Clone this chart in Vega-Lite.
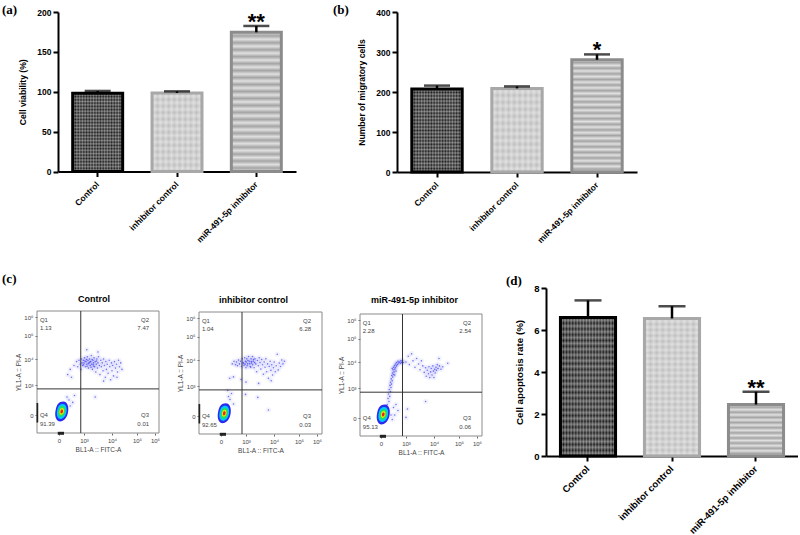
{
"$schema":"https://vega.github.io/schema/vega-lite/v6.json",
"padding":{"left":2,"top":4,"right":0,"bottom":0},
"background":"white",
"config":{"view":{"stroke":null},"axis":{"grid":false,"domainColor":"black","domainWidth":2,"tickColor":"black","tickWidth":2,"tickSize":5,"labelFont":"Liberation Sans","labelFontWeight":"bold","labelColor":"black","labelFontSize":8.5,"titleFont":"Liberation Sans","titleFontWeight":"bold","titleColor":"black","titleFontSize":8.6}},
"datasets":{
"p1":[{"x":2.45,"y":3.6},{"x":2.6,"y":3.75},{"x":2.7,"y":3.9},{"x":2.75,"y":3.7},{"x":2.8,"y":3.95},{"x":2.85,"y":3.8},{"x":2.88,"y":3.6},{"x":2.9,"y":4.0},{"x":2.92,"y":3.85},{"x":2.95,"y":3.75},{"x":2.97,"y":3.95},{"x":3.0,"y":3.85},{"x":3.02,"y":4.05},{"x":3.05,"y":3.7},{"x":3.07,"y":3.9},{"x":3.1,"y":3.8},{"x":3.12,"y":4.1},{"x":3.14,"y":3.95},{"x":3.16,"y":3.65},{"x":3.18,"y":3.85},{"x":3.2,"y":4.0},{"x":3.22,"y":3.75},{"x":3.24,"y":3.9},{"x":3.26,"y":4.15},{"x":3.28,"y":3.8},{"x":3.3,"y":3.6},{"x":3.32,"y":3.95},{"x":3.34,"y":3.85},{"x":3.36,"y":4.05},{"x":3.38,"y":3.7},{"x":3.4,"y":3.9},{"x":3.42,"y":3.5},{"x":3.44,"y":3.8},{"x":3.46,"y":4.0},{"x":3.48,"y":3.65},{"x":3.5,"y":3.85},{"x":3.52,"y":4.1},{"x":3.55,"y":3.75},{"x":3.57,"y":3.4},{"x":3.6,"y":3.95},{"x":3.62,"y":3.7},{"x":3.65,"y":3.85},{"x":3.68,"y":3.55},{"x":3.7,"y":4.0},{"x":3.73,"y":3.75},{"x":3.76,"y":3.3},{"x":3.78,"y":3.9},{"x":3.8,"y":3.6},{"x":3.83,"y":3.8},{"x":3.86,"y":3.45},{"x":3.9,"y":3.95},{"x":3.92,"y":3.7},{"x":3.95,"y":3.2},{"x":3.98,"y":3.85},{"x":4.0,"y":3.55},{"x":4.03,"y":3.75},{"x":4.06,"y":3.35},{"x":4.1,"y":3.9},{"x":4.14,"y":3.65},{"x":4.18,"y":3.8},{"x":4.22,"y":3.5},{"x":4.26,"y":3.95},{"x":4.3,"y":3.7},{"x":4.35,"y":3.85},{"x":4.4,"y":3.6},{"x":3.1,"y":4.4},{"x":3.5,"y":4.3},{"x":2.35,"y":3.4},{"x":2.5,"y":3.3},{"x":3.7,"y":3.15},{"x":4.2,"y":3.3},{"x":2.62,"y":2.65},{"x":3.4,"y":2.6},{"x":3.03,"y":3.92},{"x":3.11,"y":3.72},{"x":3.21,"y":3.88},{"x":3.29,"y":3.98},{"x":3.09,"y":3.98},{"x":3.35,"y":3.72},{"x":3.15,"y":3.82},{"x":2.98,"y":3.78},{"x":3.25,"y":3.68},{"x":3.45,"y":3.92},{"x":3.33,"y":3.78},{"x":2.4,"y":2.5},{"x":2.45,"y":2.3},{"x":2.55,"y":2.42},{"x":2.32,"y":2.6}],
"p2":[{"x":2.35,"y":3.3},{"x":2.45,"y":3.85},{"x":2.5,"y":3.35},{"x":2.52,"y":3.95},{"x":2.58,"y":3.82},{"x":2.62,"y":3.92},{"x":2.66,"y":3.78},{"x":2.7,"y":4.0},{"x":2.74,"y":3.85},{"x":2.78,"y":3.95},{"x":2.82,"y":3.75},{"x":2.85,"y":4.05},{"x":2.88,"y":3.9},{"x":2.92,"y":3.8},{"x":2.95,"y":4.1},{"x":2.98,"y":3.95},{"x":3.0,"y":3.7},{"x":3.03,"y":4.05},{"x":3.06,"y":3.85},{"x":3.09,"y":4.15},{"x":3.12,"y":3.95},{"x":3.15,"y":3.75},{"x":3.18,"y":4.05},{"x":3.2,"y":3.88},{"x":3.23,"y":4.15},{"x":3.26,"y":3.95},{"x":3.29,"y":3.7},{"x":3.32,"y":4.05},{"x":3.35,"y":3.85},{"x":3.38,"y":3.55},{"x":3.41,"y":3.98},{"x":3.44,"y":3.78},{"x":3.47,"y":4.1},{"x":3.5,"y":3.9},{"x":3.53,"y":3.65},{"x":3.56,"y":4.02},{"x":3.59,"y":3.82},{"x":3.62,"y":3.45},{"x":3.65,"y":3.92},{"x":3.68,"y":3.72},{"x":3.71,"y":4.05},{"x":3.74,"y":3.55},{"x":3.77,"y":3.85},{"x":3.8,"y":3.3},{"x":3.83,"y":3.75},{"x":3.86,"y":3.95},{"x":3.89,"y":3.6},{"x":3.92,"y":3.82},{"x":3.95,"y":3.42},{"x":3.98,"y":3.7},{"x":4.01,"y":3.92},{"x":4.05,"y":3.55},{"x":4.09,"y":3.78},{"x":4.13,"y":4.25},{"x":4.17,"y":3.62},{"x":4.21,"y":3.88},{"x":4.26,"y":3.75},{"x":4.31,"y":4.0},{"x":4.36,"y":3.85},{"x":4.42,"y":3.95},{"x":3.0,"y":3.15},{"x":2.8,"y":3.25},{"x":3.45,"y":3.1},{"x":3.9,"y":3.2},{"x":2.98,"y":2.72},{"x":3.42,"y":2.62},{"x":3.8,"y":2.2},{"x":2.9,"y":3.88},{"x":3.01,"y":3.92},{"x":3.07,"y":3.98},{"x":3.13,"y":3.86},{"x":3.19,"y":3.94},{"x":3.24,"y":3.82},{"x":3.31,"y":3.9},{"x":3.04,"y":3.78},{"x":2.96,"y":3.84},{"x":3.17,"y":3.72},{"x":3.27,"y":4.02},{"x":2.36,"y":2.55},{"x":2.42,"y":2.75},{"x":2.3,"y":2.65},{"x":2.5,"y":2.4},{"x":2.27,"y":2.85}],
"p3":[{"x":2.25,"y":2.45},{"x":2.32,"y":2.55},{"x":2.28,"y":2.65},{"x":2.35,"y":2.72},{"x":2.3,"y":2.8},{"x":2.38,"y":2.88},{"x":2.33,"y":2.95},{"x":2.4,"y":3.02},{"x":2.36,"y":3.1},{"x":2.42,"y":3.15},{"x":2.38,"y":3.22},{"x":2.45,"y":3.28},{"x":2.41,"y":3.35},{"x":2.47,"y":3.42},{"x":2.43,"y":3.48},{"x":2.5,"y":3.52},{"x":2.46,"y":3.58},{"x":2.52,"y":3.62},{"x":2.48,"y":3.7},{"x":2.55,"y":3.72},{"x":2.5,"y":3.8},{"x":2.58,"y":3.78},{"x":2.54,"y":3.86},{"x":2.62,"y":3.85},{"x":2.58,"y":3.92},{"x":2.66,"y":3.9},{"x":2.62,"y":3.98},{"x":2.7,"y":3.96},{"x":2.68,"y":4.03},{"x":2.74,"y":4.0},{"x":2.78,"y":3.95},{"x":2.8,"y":4.05},{"x":2.83,"y":3.98},{"x":2.86,"y":4.08},{"x":2.9,"y":3.98},{"x":2.55,"y":3.5},{"x":2.6,"y":3.65},{"x":2.45,"y":3.75},{"x":3.0,"y":4.0},{"x":3.08,"y":4.25},{"x":3.12,"y":3.9},{"x":3.2,"y":4.35},{"x":3.25,"y":4.05},{"x":3.32,"y":3.8},{"x":3.38,"y":4.15},{"x":3.45,"y":3.92},{"x":3.5,"y":3.7},{"x":3.55,"y":4.05},{"x":3.6,"y":3.85},{"x":3.65,"y":3.6},{"x":3.7,"y":3.78},{"x":3.72,"y":3.45},{"x":3.76,"y":3.68},{"x":3.8,"y":3.55},{"x":3.82,"y":3.82},{"x":3.85,"y":3.4},{"x":3.88,"y":3.62},{"x":3.9,"y":3.75},{"x":3.93,"y":3.5},{"x":3.96,"y":3.85},{"x":3.98,"y":3.65},{"x":4.0,"y":3.4},{"x":4.03,"y":3.72},{"x":4.05,"y":3.58},{"x":4.08,"y":3.8},{"x":4.1,"y":3.68},{"x":4.13,"y":3.9},{"x":4.16,"y":3.75},{"x":4.2,"y":4.15},{"x":4.22,"y":3.85},{"x":4.28,"y":3.72},{"x":4.35,"y":3.82},{"x":4.55,"y":3.95},{"x":3.7,"y":2.55},{"x":3.05,"y":2.3},{"x":3.0,"y":2.02},{"x":2.3,"y":2.25},{"x":2.4,"y":2.1},{"x":2.5,"y":2.35},{"x":2.55,"y":2.1},{"x":2.45,"y":1.95},{"x":2.6,"y":2.45},{"x":2.68,"y":2.25}]
},
"params":[
{"name":"h12","value":{"gradient":"linear","x1":0,"y1":0,"x2":0,"y2":1,"stops":[{"offset":0,"color":"#fff0"},{"offset":0.0417,"color":"#fff5"},{"offset":0.0833,"color":"#fff0"},{"offset":0.125,"color":"#fff5"},{"offset":0.1667,"color":"#fff0"},{"offset":0.2083,"color":"#fff5"},{"offset":0.25,"color":"#fff0"},{"offset":0.2917,"color":"#fff5"},{"offset":0.3333,"color":"#fff0"},{"offset":0.375,"color":"#fff5"},{"offset":0.4167,"color":"#fff0"},{"offset":0.4583,"color":"#fff5"},{"offset":0.5,"color":"#fff0"},{"offset":0.5417,"color":"#fff5"},{"offset":0.5833,"color":"#fff0"},{"offset":0.625,"color":"#fff5"},{"offset":0.6667,"color":"#fff0"},{"offset":0.7083,"color":"#fff5"},{"offset":0.75,"color":"#fff0"},{"offset":0.7917,"color":"#fff5"},{"offset":0.8333,"color":"#fff0"},{"offset":0.875,"color":"#fff5"},{"offset":0.9167,"color":"#fff0"},{"offset":0.9583,"color":"#fff5"},{"offset":1,"color":"#fff0"}]}},
{"name":"h24","value":{"gradient":"linear","x1":0,"y1":0,"x2":0,"y2":1,"stops":[{"offset":0,"color":"#fff0"},{"offset":0.0208,"color":"#fff5"},{"offset":0.0417,"color":"#fff0"},{"offset":0.0625,"color":"#fff5"},{"offset":0.0833,"color":"#fff0"},{"offset":0.1042,"color":"#fff5"},{"offset":0.125,"color":"#fff0"},{"offset":0.1458,"color":"#fff5"},{"offset":0.1667,"color":"#fff0"},{"offset":0.1875,"color":"#fff5"},{"offset":0.2083,"color":"#fff0"},{"offset":0.2292,"color":"#fff5"},{"offset":0.25,"color":"#fff0"},{"offset":0.2708,"color":"#fff5"},{"offset":0.2917,"color":"#fff0"},{"offset":0.3125,"color":"#fff5"},{"offset":0.3333,"color":"#fff0"},{"offset":0.3542,"color":"#fff5"},{"offset":0.375,"color":"#fff0"},{"offset":0.3958,"color":"#fff5"},{"offset":0.4167,"color":"#fff0"},{"offset":0.4375,"color":"#fff5"},{"offset":0.4583,"color":"#fff0"},{"offset":0.4792,"color":"#fff5"},{"offset":0.5,"color":"#fff0"},{"offset":0.5208,"color":"#fff5"},{"offset":0.5417,"color":"#fff0"},{"offset":0.5625,"color":"#fff5"},{"offset":0.5833,"color":"#fff0"},{"offset":0.6042,"color":"#fff5"},{"offset":0.625,"color":"#fff0"},{"offset":0.6458,"color":"#fff5"},{"offset":0.6667,"color":"#fff0"},{"offset":0.6875,"color":"#fff5"},{"offset":0.7083,"color":"#fff0"},{"offset":0.7292,"color":"#fff5"},{"offset":0.75,"color":"#fff0"},{"offset":0.7708,"color":"#fff5"},{"offset":0.7917,"color":"#fff0"},{"offset":0.8125,"color":"#fff5"},{"offset":0.8333,"color":"#fff0"},{"offset":0.8542,"color":"#fff5"},{"offset":0.875,"color":"#fff0"},{"offset":0.8958,"color":"#fff5"},{"offset":0.9167,"color":"#fff0"},{"offset":0.9375,"color":"#fff5"},{"offset":0.9583,"color":"#fff0"},{"offset":0.9792,"color":"#fff5"},{"offset":1,"color":"#fff0"}]}},
{"name":"v9","value":{"gradient":"linear","x1":0,"y1":0,"x2":1,"y2":0,"stops":[{"offset":0,"color":"#fff0"},{"offset":0.0556,"color":"#fff5"},{"offset":0.1111,"color":"#fff0"},{"offset":0.1667,"color":"#fff5"},{"offset":0.2222,"color":"#fff0"},{"offset":0.2778,"color":"#fff5"},{"offset":0.3333,"color":"#fff0"},{"offset":0.3889,"color":"#fff5"},{"offset":0.4444,"color":"#fff0"},{"offset":0.5,"color":"#fff5"},{"offset":0.5556,"color":"#fff0"},{"offset":0.6111,"color":"#fff5"},{"offset":0.6667,"color":"#fff0"},{"offset":0.7222,"color":"#fff5"},{"offset":0.7778,"color":"#fff0"},{"offset":0.8333,"color":"#fff5"},{"offset":0.8889,"color":"#fff0"},{"offset":0.9444,"color":"#fff5"},{"offset":1,"color":"#fff0"}]}},
{"name":"v18","value":{"gradient":"linear","x1":0,"y1":0,"x2":1,"y2":0,"stops":[{"offset":0,"color":"#fff0"},{"offset":0.0278,"color":"#fff5"},{"offset":0.0556,"color":"#fff0"},{"offset":0.0833,"color":"#fff5"},{"offset":0.1111,"color":"#fff0"},{"offset":0.1389,"color":"#fff5"},{"offset":0.1667,"color":"#fff0"},{"offset":0.1944,"color":"#fff5"},{"offset":0.2222,"color":"#fff0"},{"offset":0.25,"color":"#fff5"},{"offset":0.2778,"color":"#fff0"},{"offset":0.3056,"color":"#fff5"},{"offset":0.3333,"color":"#fff0"},{"offset":0.3611,"color":"#fff5"},{"offset":0.3889,"color":"#fff0"},{"offset":0.4167,"color":"#fff5"},{"offset":0.4444,"color":"#fff0"},{"offset":0.4722,"color":"#fff5"},{"offset":0.5,"color":"#fff0"},{"offset":0.5278,"color":"#fff5"},{"offset":0.5556,"color":"#fff0"},{"offset":0.5833,"color":"#fff5"},{"offset":0.6111,"color":"#fff0"},{"offset":0.6389,"color":"#fff5"},{"offset":0.6667,"color":"#fff0"},{"offset":0.6944,"color":"#fff5"},{"offset":0.7222,"color":"#fff0"},{"offset":0.75,"color":"#fff5"},{"offset":0.7778,"color":"#fff0"},{"offset":0.8056,"color":"#fff5"},{"offset":0.8333,"color":"#fff0"},{"offset":0.8611,"color":"#fff5"},{"offset":0.8889,"color":"#fff0"},{"offset":0.9167,"color":"#fff5"},{"offset":0.9444,"color":"#fff0"},{"offset":0.9722,"color":"#fff5"},{"offset":1,"color":"#fff0"}]}},
{"name":"s20","value":{"gradient":"linear","x1":0,"y1":0,"x2":0,"y2":1,"stops":[{"offset":0,"color":"#0000"},{"offset":0.025,"color":"#0004"},{"offset":0.05,"color":"#0000"},{"offset":0.075,"color":"#0004"},{"offset":0.1,"color":"#0000"},{"offset":0.125,"color":"#0004"},{"offset":0.15,"color":"#0000"},{"offset":0.175,"color":"#0004"},{"offset":0.2,"color":"#0000"},{"offset":0.225,"color":"#0004"},{"offset":0.25,"color":"#0000"},{"offset":0.275,"color":"#0004"},{"offset":0.3,"color":"#0000"},{"offset":0.325,"color":"#0004"},{"offset":0.35,"color":"#0000"},{"offset":0.375,"color":"#0004"},{"offset":0.4,"color":"#0000"},{"offset":0.425,"color":"#0004"},{"offset":0.45,"color":"#0000"},{"offset":0.475,"color":"#0004"},{"offset":0.5,"color":"#0000"},{"offset":0.525,"color":"#0004"},{"offset":0.55,"color":"#0000"},{"offset":0.575,"color":"#0004"},{"offset":0.6,"color":"#0000"},{"offset":0.625,"color":"#0004"},{"offset":0.65,"color":"#0000"},{"offset":0.675,"color":"#0004"},{"offset":0.7,"color":"#0000"},{"offset":0.725,"color":"#0004"},{"offset":0.75,"color":"#0000"},{"offset":0.775,"color":"#0004"},{"offset":0.8,"color":"#0000"},{"offset":0.825,"color":"#0004"},{"offset":0.85,"color":"#0000"},{"offset":0.875,"color":"#0004"},{"offset":0.9,"color":"#0000"},{"offset":0.925,"color":"#0004"},{"offset":0.95,"color":"#0000"},{"offset":0.975,"color":"#0004"},{"offset":1,"color":"#0000"}]}},
{"name":"s10","value":{"gradient":"linear","x1":0,"y1":0,"x2":0,"y2":1,"stops":[{"offset":0,"color":"#0000"},{"offset":0.05,"color":"#0004"},{"offset":0.1,"color":"#0000"},{"offset":0.15,"color":"#0004"},{"offset":0.2,"color":"#0000"},{"offset":0.25,"color":"#0004"},{"offset":0.3,"color":"#0000"},{"offset":0.35,"color":"#0004"},{"offset":0.4,"color":"#0000"},{"offset":0.45,"color":"#0004"},{"offset":0.5,"color":"#0000"},{"offset":0.55,"color":"#0004"},{"offset":0.6,"color":"#0000"},{"offset":0.65,"color":"#0004"},{"offset":0.7,"color":"#0000"},{"offset":0.75,"color":"#0004"},{"offset":0.8,"color":"#0000"},{"offset":0.85,"color":"#0004"},{"offset":0.9,"color":"#0000"},{"offset":0.95,"color":"#0004"},{"offset":1,"color":"#0000"}]}}
],
"vconcat":[
{"hconcat":[
{"width":360,"height":159.5,"title":{"text":"(a)","anchor":"start","frame":"group","dx":-35,"dy":11,"offset":2,"font":"Liberation Serif","fontWeight":"bold","fontSize":13,"color":"black"},
"data":{"values":[{"c":"Control","v":98,"t":101,"s":""},{"c":"inhibitor control","v":98.5,"t":100.5,"s":""},{"c":"miR-491-5p inhibitor","v":174.5,"t":182.5,"s":"**"}]},
"encoding":{"x":{"field":"c","type":"nominal","sort":null,"scale":{"range":[21,259],"paddingInner":0.37,"paddingOuter":0.185},"axis":{"title":null,"labelAngle":-45,"labelAlign":"right","labelBaseline":"middle","labelPadding":6}},"y":{"field":"v","type":"quantitative","scale":{"domain":[0,200]},"axis":{"title":"Cell viability (%)","values":[0,50,100,150,200],"titlePadding":9,"offset":-21}}},
"layer":[
{"mark":{"type":"bar"},"encoding":{"fill":{"field":"c","type":"nominal","sort":null,"legend":null,"scale":{"range":["#181818","#bdbdbd","#e0e0e0"]}}}},
{"transform":[{"filter":"datum.c=='Control'"}],"mark":{"type":"bar","fill":{"expr":"h24"}}},
{"transform":[{"filter":"datum.c=='Control'"}],"mark":{"type":"bar","fill":{"expr":"v18"}}},
{"transform":[{"filter":"datum.c=='inhibitor control'"}],"mark":{"type":"bar","fill":{"expr":"h12"}}},
{"transform":[{"filter":"datum.c=='inhibitor control'"}],"mark":{"type":"bar","fill":{"expr":"v9"}}},
{"transform":[{"filter":"datum.c=='miR-491-5p inhibitor'"}],"mark":{"type":"bar","fill":{"expr":"s20"}}},
{"mark":{"type":"bar","fillOpacity":0,"strokeWidth":3},"encoding":{"stroke":{"field":"c","type":"nominal","sort":null,"legend":null,"scale":{"range":["#000000","#a8a8a8","#8c8c8c"]}}}},
{"mark":{"type":"rule","color":"black","strokeWidth":2.5},"encoding":{"y2":{"field":"t"}}},
{"mark":{"type":"tick","color":"black","thickness":2.5,"size":26},"encoding":{"y":{"field":"t","type":"quantitative"}}},
{"mark":{"type":"text","font":"Liberation Sans","fontWeight":"bold","fontSize":22,"dy":8,"color":"black","baseline":"bottom"},"encoding":{"y":{"field":"t","type":"quantitative"},"text":{"field":"s"}}}
]},
{"width":240,"height":160,"title":{"text":"(b)","anchor":"start","frame":"group","dx":-64,"dy":11,"offset":2,"font":"Liberation Serif","fontWeight":"bold","fontSize":13,"color":"black"},
"data":{"values":[{"c":"Control","v":207.5,"t":216,"s":""},{"c":"inhibitor control","v":209,"t":214,"s":""},{"c":"miR-491-5p inhibitor","v":280.5,"t":294,"s":"*"}]},
"encoding":{"x":{"field":"c","type":"nominal","sort":null,"scale":{"paddingInner":0.37,"paddingOuter":0.185},"axis":{"title":null,"labelAngle":-45,"labelAlign":"right","labelBaseline":"middle","labelPadding":6}},"y":{"field":"v","type":"quantitative","scale":{"domain":[0,400]},"axis":{"title":"Number of migratory cells","values":[0,100,200,300,400],"titlePadding":9}}},
"layer":[
{"mark":{"type":"bar"},"encoding":{"fill":{"field":"c","type":"nominal","sort":null,"legend":null,"scale":{"range":["#181818","#bdbdbd","#e0e0e0"]}}}},
{"transform":[{"filter":"datum.c=='Control'"}],"mark":{"type":"bar","fill":{"expr":"h24"}}},
{"transform":[{"filter":"datum.c=='Control'"}],"mark":{"type":"bar","fill":{"expr":"v18"}}},
{"transform":[{"filter":"datum.c=='inhibitor control'"}],"mark":{"type":"bar","fill":{"expr":"h12"}}},
{"transform":[{"filter":"datum.c=='inhibitor control'"}],"mark":{"type":"bar","fill":{"expr":"v9"}}},
{"transform":[{"filter":"datum.c=='miR-491-5p inhibitor'"}],"mark":{"type":"bar","fill":{"expr":"s20"}}},
{"mark":{"type":"bar","fillOpacity":0,"strokeWidth":3},"encoding":{"stroke":{"field":"c","type":"nominal","sort":null,"legend":null,"scale":{"range":["#000000","#a8a8a8","#8c8c8c"]}}}},
{"mark":{"type":"rule","color":"black","strokeWidth":2.5},"encoding":{"y2":{"field":"t"}}},
{"mark":{"type":"tick","color":"black","thickness":2.5,"size":26},"encoding":{"y":{"field":"t","type":"quantitative"}}},
{"mark":{"type":"text","font":"Liberation Sans","fontWeight":"bold","fontSize":22,"dy":8,"color":"black","baseline":"bottom"},"encoding":{"y":{"field":"t","type":"quantitative"},"text":{"field":"s"}}}
]}
],"spacing":0,"bounds":"flush"},
{"hconcat":[
{"width":162,"height":168,
"encoding":{"x":{"field":"x","type":"quantitative","scale":{"domain":[1.1,2,3,4,5,6,6.2],"range":[0,22,47,75,100,118,122]},"axis":{"title":"BL1-A :: FITC-A","offset":-23,"values":[2,3,4,5,6],"labelExpr":"datum.value==2?'0':datum.value==3?'10³':datum.value==4?'10⁴':datum.value==5?'10⁵':'10⁶'","domain":false,"tickColor":"#666","tickWidth":1,"tickSize":2,"labelFontWeight":"normal","labelFontSize":6,"labelColor":"#444","labelPadding":2,"titleFontWeight":"normal","titleFontSize":6.5,"titleColor":"#444","titlePadding":3}},
"y":{"field":"y","type":"quantitative","scale":{"domain":[1.4,2,3,4,5,6,6.25],"range":[145,127,97,71,47.7,29,23]},"axis":{"title":"YL1-A :: PI-A","values":[2,3,4,5,6],"labelExpr":"datum.value==2?'0':datum.value==3?'10³':datum.value==4?'10⁴':datum.value==5?'10⁵':'10⁶'","domain":false,"tickColor":"#666","tickWidth":1,"tickSize":2,"labelFontWeight":"normal","labelFontSize":6,"labelColor":"#444","labelPadding":2,"titleFontWeight":"normal","titleFontSize":6.5,"titleColor":"#444","titlePadding":2}}},
"layer":[
{"data":{"values":[{"x":1.1,"x2":6.2,"y":1.4,"y2":6.25}]},"mark":{"type":"rect","fillOpacity":0,"stroke":"#8a8a8a","strokeWidth":1},"encoding":{"x2":{"field":"x2"},"y2":{"field":"y2"}}},
{"data":{"name":"p1"},"mark":{"type":"point","filled":true,"size":30,"color":"#5a5af0","opacity":0.07}},
{"data":{"name":"p1"},"mark":{"type":"point","filled":true,"size":2.5,"color":"#3a3af0","opacity":0.7}},
{"data":{"values":[{"x":2.87,"y":1.4,"y2":6.25}]},"mark":{"type":"rule","color":"#333","strokeWidth":1},"encoding":{"y2":{"field":"y2"}}},
{"data":{"values":[{"y":2.87,"x":1.1,"x2":6.2}]},"mark":{"type":"rule","color":"#333","strokeWidth":1},"encoding":{"x2":{"field":"x2"}}},
{"data":{"values":[{"x":1.95,"x2":2.2,"y":1.34,"y2":1.44},{"x":1.08,"x2":1.15,"y":1.75,"y2":2.4}]},"mark":{"type":"rect","color":"#222"},"encoding":{"x2":{"field":"x2"},"y2":{"field":"y2"}}},
{"data":{"values":[{"x":2.11,"y":2.12,"l":1},{"x":2.11,"y":2.12,"l":2},{"x":2.11,"y":2.12,"l":3},{"x":2.11,"y":2.12,"l":4},{"x":2.11,"y":2.12,"l":5}]},"mark":{"type":"point","filled":true,"opacity":1,"shape":"M.15,-1C.6,-1 .75,-.4 .6,.2C.5,.7 .1,1 -.15,1C-.6,1 -.75,.4 -.6,-.2C-.5,-.7 -.3,-1 .15,-1Z"},"encoding":{"size":{"field":"l","type":"ordinal","legend":null,"scale":{"type":"ordinal","range":[400,225,120,49,16]}},"color":{"field":"l","type":"ordinal","legend":null,"scale":{"range":["#2a2af0","#00c8ff","#20e060","#e8e800","#f02010"]}}}},
{"data":{"values":[{"x":1.22,"y":5.86,"t":"Q1"},{"x":1.22,"y":5.41,"t":"1.13"},{"x":1.22,"y":2.0,"t":"Q4"},{"x":1.22,"y":1.7,"t":"91.39"}]},"mark":{"type":"text","align":"left","font":"Liberation Sans","fontSize":6,"color":"#444"},"encoding":{"text":{"field":"t"}}},
{"data":{"values":[{"x":5.67,"y":5.86,"t":"Q2"},{"x":5.67,"y":5.41,"t":"7.47"},{"x":5.67,"y":2.0,"t":"Q3"},{"x":5.67,"y":1.7,"t":"0.01"}]},"mark":{"type":"text","align":"right","font":"Liberation Sans","fontSize":6,"color":"#444"},"encoding":{"text":{"field":"t"}}},
{"data":{"values":[{"x":3.36,"y":6.75,"t":"Control"}]},"mark":{"type":"text","font":"Liberation Sans","fontWeight":"bold","fontSize":9,"color":"black"},"encoding":{"text":{"field":"t"}}},
{"data":{"values":[{"x":-0.33,"y":7.42,"t":"(c)"}]},"mark":{"type":"text","align":"left","baseline":"alphabetic","font":"Liberation Serif","fontWeight":"bold","fontSize":13,"color":"black"},"encoding":{"text":{"field":"t"}}}
]},
{"width":161,"height":168,
"encoding":{"x":{"field":"x","type":"quantitative","scale":{"domain":[1.1,2,3,4,5,6,6.2],"range":[0,22,47,75,100,118,123]},"axis":{"title":"BL1-A :: FITC-A","offset":-22,"values":[2,3,4,5,6],"labelExpr":"datum.value==2?'0':datum.value==3?'10³':datum.value==4?'10⁴':datum.value==5?'10⁵':'10⁶'","domain":false,"tickColor":"#666","tickWidth":1,"tickSize":2,"labelFontWeight":"normal","labelFontSize":6,"labelColor":"#444","labelPadding":2,"titleFontWeight":"normal","titleFontSize":6.5,"titleColor":"#444","titlePadding":3}},
"y":{"field":"y","type":"quantitative","scale":{"domain":[1.4,2,3,4,5,6,6.25],"range":[146,128,98,72,48.7,30,24]},"axis":{"title":"YL1-A :: PI-A","values":[2,3,4,5,6],"labelExpr":"datum.value==2?'0':datum.value==3?'10³':datum.value==4?'10⁴':datum.value==5?'10⁵':'10⁶'","domain":false,"tickColor":"#666","tickWidth":1,"tickSize":2,"labelFontWeight":"normal","labelFontSize":6,"labelColor":"#444","labelPadding":2,"titleFontWeight":"normal","titleFontSize":6.5,"titleColor":"#444","titlePadding":2}}},
"layer":[
{"data":{"values":[{"x":1.1,"x2":6.2,"y":1.4,"y2":6.25}]},"mark":{"type":"rect","fillOpacity":0,"stroke":"#8a8a8a","strokeWidth":1},"encoding":{"x2":{"field":"x2"},"y2":{"field":"y2"}}},
{"data":{"name":"p2"},"mark":{"type":"point","filled":true,"size":30,"color":"#5a5af0","opacity":0.07}},
{"data":{"name":"p2"},"mark":{"type":"point","filled":true,"size":2.5,"color":"#3a3af0","opacity":0.7}},
{"data":{"values":[{"x":2.84,"y":1.4,"y2":6.25}]},"mark":{"type":"rule","color":"#333","strokeWidth":1},"encoding":{"y2":{"field":"y2"}}},
{"data":{"values":[{"y":2.87,"x":1.1,"x2":6.2}]},"mark":{"type":"rule","color":"#333","strokeWidth":1},"encoding":{"x2":{"field":"x2"}}},
{"data":{"values":[{"x":1.95,"x2":2.2,"y":1.34,"y2":1.44},{"x":1.08,"x2":1.15,"y":1.75,"y2":2.4}]},"mark":{"type":"rect","color":"#222"},"encoding":{"x2":{"field":"x2"},"y2":{"field":"y2"}}},
{"data":{"values":[{"x":2.13,"y":2.09,"l":1},{"x":2.13,"y":2.09,"l":2},{"x":2.13,"y":2.09,"l":3},{"x":2.13,"y":2.09,"l":4},{"x":2.13,"y":2.09,"l":5}]},"mark":{"type":"point","filled":true,"opacity":1,"shape":"M.15,-1C.6,-1 .75,-.4 .6,.2C.5,.7 .1,1 -.15,1C-.6,1 -.75,.4 -.6,-.2C-.5,-.7 -.3,-1 .15,-1Z"},"encoding":{"size":{"field":"l","type":"ordinal","legend":null,"scale":{"type":"ordinal","range":[400,225,120,49,16]}},"color":{"field":"l","type":"ordinal","legend":null,"scale":{"range":["#2a2af0","#00c8ff","#20e060","#e8e800","#f02010"]}}}},
{"data":{"values":[{"x":1.22,"y":5.86,"t":"Q1"},{"x":1.22,"y":5.41,"t":"1.04"},{"x":1.22,"y":2.0,"t":"Q4"},{"x":1.22,"y":1.7,"t":"92.65"}]},"mark":{"type":"text","align":"left","font":"Liberation Sans","fontSize":6,"color":"#444"},"encoding":{"text":{"field":"t"}}},
{"data":{"values":[{"x":5.67,"y":5.86,"t":"Q2"},{"x":5.67,"y":5.41,"t":"6.28"},{"x":5.67,"y":2.0,"t":"Q3"},{"x":5.67,"y":1.7,"t":"0.03"}]},"mark":{"type":"text","align":"right","font":"Liberation Sans","fontSize":6,"color":"#444"},"encoding":{"text":{"field":"t"}}},
{"data":{"values":[{"x":3.27,"y":6.76,"t":"inhibitor control"}]},"mark":{"type":"text","font":"Liberation Sans","fontWeight":"bold","fontSize":9,"color":"black"},"encoding":{"text":{"field":"t"}}}
]},
{"width":186,"height":168,
"encoding":{"x":{"field":"x","type":"quantitative","scale":{"domain":[1.1,2,3,4,5,6,6.2],"range":[0,21,46,74,99,117,122]},"axis":{"title":"BL1-A :: FITC-A","offset":-20,"values":[2,3,4,5,6],"labelExpr":"datum.value==2?'0':datum.value==3?'10³':datum.value==4?'10⁴':datum.value==5?'10⁵':'10⁶'","domain":false,"tickColor":"#666","tickWidth":1,"tickSize":2,"labelFontWeight":"normal","labelFontSize":6,"labelColor":"#444","labelPadding":2,"titleFontWeight":"normal","titleFontSize":6.5,"titleColor":"#444","titlePadding":3}},
"y":{"field":"y","type":"quantitative","scale":{"domain":[1.4,2,3,4,5,6,6.25],"range":[148,130,100,74,50.7,32,26]},"axis":{"title":"YL1-A :: PI-A","values":[2,3,4,5,6],"labelExpr":"datum.value==2?'0':datum.value==3?'10³':datum.value==4?'10⁴':datum.value==5?'10⁵':'10⁶'","domain":false,"tickColor":"#666","tickWidth":1,"tickSize":2,"labelFontWeight":"normal","labelFontSize":6,"labelColor":"#444","labelPadding":2,"titleFontWeight":"normal","titleFontSize":6.5,"titleColor":"#444","titlePadding":2}}},
"layer":[
{"data":{"values":[{"x":1.1,"x2":6.2,"y":1.4,"y2":6.25}]},"mark":{"type":"rect","fillOpacity":0,"stroke":"#8a8a8a","strokeWidth":1},"encoding":{"x2":{"field":"x2"},"y2":{"field":"y2"}}},
{"data":{"name":"p3"},"mark":{"type":"point","filled":true,"size":30,"color":"#5a5af0","opacity":0.07}},
{"data":{"name":"p3"},"mark":{"type":"point","filled":true,"size":2.5,"color":"#3a3af0","opacity":0.7}},
{"data":{"values":[{"x":2.86,"y":1.4,"y2":6.25}]},"mark":{"type":"rule","color":"#333","strokeWidth":1},"encoding":{"y2":{"field":"y2"}}},
{"data":{"values":[{"y":2.86,"x":1.1,"x2":6.2}]},"mark":{"type":"rule","color":"#333","strokeWidth":1},"encoding":{"x2":{"field":"x2"}}},
{"data":{"values":[{"x":1.95,"x2":2.2,"y":1.34,"y2":1.44}]},"mark":{"type":"rect","color":"#222"},"encoding":{"x2":{"field":"x2"},"y2":{"field":"y2"}}},
{"data":{"values":[{"x":2.09,"y":2.12,"l":1},{"x":2.09,"y":2.12,"l":2},{"x":2.09,"y":2.12,"l":3},{"x":2.09,"y":2.12,"l":4},{"x":2.09,"y":2.12,"l":5}]},"mark":{"type":"point","filled":true,"opacity":1,"shape":"M.15,-1C.6,-1 .75,-.4 .6,.2C.5,.7 .1,1 -.15,1C-.6,1 -.75,.4 -.6,-.2C-.5,-.7 -.3,-1 .15,-1Z"},"encoding":{"size":{"field":"l","type":"ordinal","legend":null,"scale":{"type":"ordinal","range":[400,225,120,49,16]}},"color":{"field":"l","type":"ordinal","legend":null,"scale":{"range":["#2a2af0","#00c8ff","#20e060","#e8e800","#f02010"]}}}},
{"data":{"values":[{"x":1.22,"y":5.86,"t":"Q1"},{"x":1.22,"y":5.41,"t":"2.28"},{"x":1.22,"y":2.0,"t":"Q4"},{"x":1.22,"y":1.7,"t":"95.13"}]},"mark":{"type":"text","align":"left","font":"Liberation Sans","fontSize":6,"color":"#444"},"encoding":{"text":{"field":"t"}}},
{"data":{"values":[{"x":5.67,"y":5.86,"t":"Q2"},{"x":5.67,"y":5.41,"t":"2.54"},{"x":5.67,"y":2.0,"t":"Q3"},{"x":5.67,"y":1.7,"t":"0.06"}]},"mark":{"type":"text","align":"right","font":"Liberation Sans","fontSize":6,"color":"#444"},"encoding":{"text":{"field":"t"}}},
{"data":{"values":[{"x":3.3,"y":6.85,"t":"miR-491-5p inhibitor"}]},"mark":{"type":"text","font":"Liberation Sans","fontWeight":"bold","fontSize":9,"color":"black"},"encoding":{"text":{"field":"t"}}}
]},
{"width":252,"height":168,"title":{"text":"(d)","anchor":"start","frame":"group","dx":-40,"dy":11,"offset":6,"font":"Liberation Serif","fontWeight":"bold","fontSize":13,"color":"black"},
"data":{"values":[{"c":"Control","v":6.6,"t":7.41,"s":""},{"c":"inhibitor control","v":6.55,"t":7.13,"s":""},{"c":"miR-491-5p inhibitor","v":2.45,"t":3.06,"s":"**"}]},
"encoding":{"x":{"field":"c","type":"nominal","sort":null,"scale":{"paddingInner":0.344,"paddingOuter":0.172},"axis":{"title":null,"labelAngle":-45,"labelAlign":"right","labelBaseline":"middle","labelPadding":6,"labelFontSize":9.5}},"y":{"field":"v","type":"quantitative","scale":{"domain":[0,8]},"axis":{"title":"Cell apoptosis rate (%)","values":[0,2,4,6,8],"titlePadding":9,"labelFontSize":9.5,"titleFontSize":9.75}}},
"layer":[
{"mark":{"type":"bar"},"encoding":{"fill":{"field":"c","type":"nominal","sort":null,"legend":null,"scale":{"range":["#181818","#bdbdbd","#e0e0e0"]}}}},
{"transform":[{"filter":"datum.c!='miR-491-5p inhibitor'"}],"mark":{"type":"bar","fill":{"expr":"h24"}}},
{"transform":[{"filter":"datum.c=='Control'"}],"mark":{"type":"bar","fill":{"expr":"v18"}}},
{"transform":[{"filter":"datum.c=='inhibitor control'"}],"mark":{"type":"bar","fill":{"expr":"v9"}}},
{"transform":[{"filter":"datum.c=='miR-491-5p inhibitor'"}],"mark":{"type":"bar","fill":{"expr":"s10"}}},
{"mark":{"type":"bar","fillOpacity":0,"strokeWidth":3},"encoding":{"stroke":{"field":"c","type":"nominal","sort":null,"legend":null,"scale":{"range":["#000000","#a8a8a8","#8c8c8c"]}}}},
{"mark":{"type":"rule","color":"black","strokeWidth":2.5},"encoding":{"y2":{"field":"t"}}},
{"mark":{"type":"tick","color":"black","thickness":2.5,"size":27},"encoding":{"y":{"field":"t","type":"quantitative"}}},
{"mark":{"type":"text","font":"Liberation Sans","fontWeight":"bold","fontSize":22,"dy":8,"color":"black","baseline":"bottom"},"encoding":{"y":{"field":"t","type":"quantitative"},"text":{"field":"s"}}}
]}
],"spacing":0,"bounds":"flush"}
],"spacing":27
}
